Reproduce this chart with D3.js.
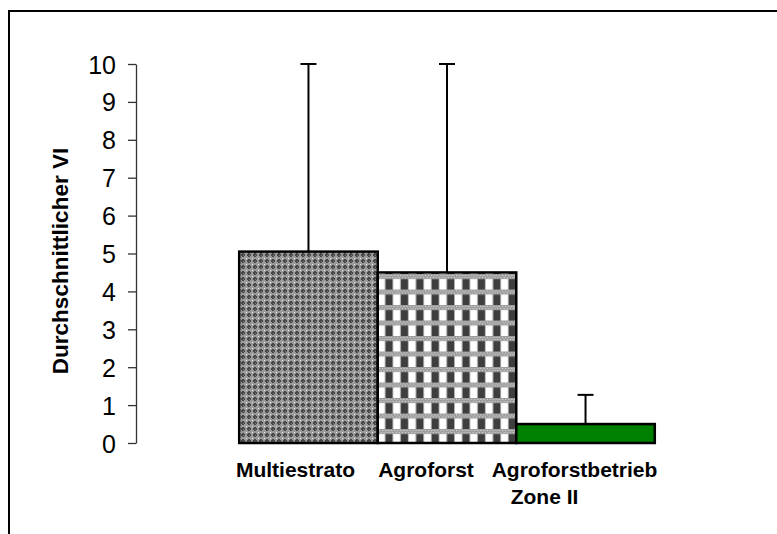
<html>
<head>
  <style>
    body { margin: 0; background: #ffffff; font-family: "Liberation Sans", Arial, sans-serif; }
    .tick text { font-size: 25px; fill: #000; }
    .cat-label { font-size: 21px; font-weight: bold; fill: #000; }
    .y-title { font-size: 22.5px; font-weight: bold; fill: #000; }
  </style>
</head>
<body>
  <div id="chart"></div>
  <script src="https://d3js.org/d3.v7.min.js"></script>
  <script>
    // data
    var categories = ["Multiestrato", "Agroforst", "Agroforstbetrieb"];
    var labelLines = [["Multiestrato"], ["Agroforst"], ["Agroforstbetrieb", "Zone II"]];
    var means = [5.05, 4.5, 0.5];
    var errorsUp = [4.95, 5.5, 0.77];
    var yTicks = [0, 1, 2, 3, 4, 5, 6, 7, 8, 9, 10];

    var width = 777, height = 534;
    var fills = ["url(#trellis)", "url(#plaid)", "#008000"];
    // hand-tuned label shifts, the original labels sit off the bar centres
    var labelShift = [[-13], [-21], [-11, -41]];

    var svg = d3.select("#chart").append("svg")
        .attr("width", width)
        .attr("height", height);

    var defs = svg.append("defs");

    // dense grey pattern of the first bar
    var p1 = defs.append("pattern")
        .attr("id", "trellis")
        .attr("patternUnits", "userSpaceOnUse")
        .attr("width", 6).attr("height", 6);
    p1.append("rect").attr("width", 6).attr("height", 6).attr("fill", "#9a9a9a");
    p1.append("rect").attr("x", 2).attr("y", 1).attr("width", 2).attr("height", 4).attr("fill", "#474747");
    p1.append("rect").attr("x", 1).attr("y", 2).attr("width", 4).attr("height", 2).attr("fill", "#474747");
    p1.append("rect").attr("x", 0).attr("y", 0).attr("width", 1).attr("height", 1).attr("fill", "#f0f0f0");
    p1.append("rect").attr("x", 3).attr("y", 3).attr("width", 1).attr("height", 1).attr("fill", "#777");

    // checked pattern of the second bar
    var p2 = defs.append("pattern")
        .attr("id", "plaid")
        .attr("patternUnits", "userSpaceOnUse")
        .attr("x", 378).attr("y", 274)
        .attr("width", 15.4).attr("height", 15.5);
    p2.append("rect").attr("width", 15.4).attr("height", 15.5).attr("fill", "#ffffff");
    p2.append("rect").attr("width", 15.4).attr("height", 5).attr("fill", "#9c9c9c");
    [1, 4, 7, 10, 13].forEach(function (x) {
      p2.append("rect").attr("x", x).attr("y", 1).attr("width", 1).attr("height", 1).attr("fill", "#e6e6e6");
      p2.append("rect").attr("x", x + 1.5).attr("y", 3).attr("width", 1).attr("height", 1).attr("fill", "#e6e6e6");
    });
    p2.append("rect").attr("x", 7.2).attr("y", 5).attr("width", 7.4).attr("height", 10.5).attr("fill", "#3e3e3e");
    p2.append("rect").attr("x", 6.6).attr("y", 5).attr("width", 0.8).attr("height", 10.5).attr("fill", "#a8a8a8");
    p2.append("rect").attr("x", 14.6).attr("y", 5).attr("width", 0.8).attr("height", 10.5).attr("fill", "#a8a8a8");

    // outer frame
    svg.append("rect")
        .attr("x", 9).attr("y", 11)
        .attr("width", 800).attr("height", 600)
        .attr("fill", "none")
        .attr("stroke", "#000")
        .attr("stroke-width", 2);

    var y = d3.scaleLinear().domain([0, 10]).range([443, 64]);
    var x = d3.scaleBand().domain(categories).range([136, 758])
        .paddingInner(0).paddingOuter(0.745);

    var yAxis = svg.append("g")
        .attr("transform", "translate(136,0)")
        .call(d3.axisLeft(y).tickValues(yTicks).tickSize(8).tickPadding(12).tickSizeOuter(0));
    yAxis.select(".domain").attr("stroke", "#333").attr("stroke-width", 1.3);
    yAxis.selectAll(".tick line").attr("stroke", "#333").attr("stroke-width", 1.3);
    yAxis.selectAll(".tick text").attr("dy", "0.36em").style("font-family", "'Liberation Sans', Arial, sans-serif");

    svg.append("text")
        .attr("class", "y-title")
        .attr("transform", "translate(68,261) rotate(-90)")
        .attr("text-anchor", "middle")
        .text("Durchschnittlicher VI");

    // error bars (drawn first so the bar tops cover their base)
    var eb = svg.append("g").selectAll("g")
        .data(categories)
        .enter().append("g");
    eb.append("line")
        .attr("x1", function (d) { return x(d) + x.bandwidth() / 2; })
        .attr("x2", function (d) { return x(d) + x.bandwidth() / 2; })
        .attr("y1", function (d, i) { return y(means[i]); })
        .attr("y2", function (d, i) { return y(means[i] + errorsUp[i]); })
        .attr("stroke", "#000").attr("stroke-width", 2);
    eb.append("line")
        .attr("x1", function (d) { return x(d) + x.bandwidth() / 2 - 8; })
        .attr("x2", function (d) { return x(d) + x.bandwidth() / 2 + 8; })
        .attr("y1", function (d, i) { return y(means[i] + errorsUp[i]); })
        .attr("y2", function (d, i) { return y(means[i] + errorsUp[i]); })
        .attr("stroke", "#000").attr("stroke-width", 2);

    svg.append("g").selectAll("rect")
        .data(categories)
        .enter().append("rect")
        .attr("x", function (d) { return x(d); })
        .attr("y", function (d, i) { return y(means[i]); })
        .attr("width", x.bandwidth())
        .attr("height", function (d, i) { return y(0) - y(means[i]); })
        .attr("fill", function (d, i) { return fills[i]; })
        .attr("stroke", "#000")
        .attr("stroke-width", 2.5);

    // category labels
    var lab = svg.append("g").selectAll("text")
        .data(categories)
        .enter().append("text")
        .attr("class", "cat-label")
        .attr("text-anchor", "middle");
    lab.each(function (d, i) {
      var t = d3.select(this);
      labelLines[i].forEach(function (line, j) {
        t.append("tspan")
            .attr("x", x(d) + x.bandwidth() / 2 + labelShift[i][j])
            .attr("y", 477 + j * 27)
            .text(line);
      });
    });
  </script>
</body>
</html>
